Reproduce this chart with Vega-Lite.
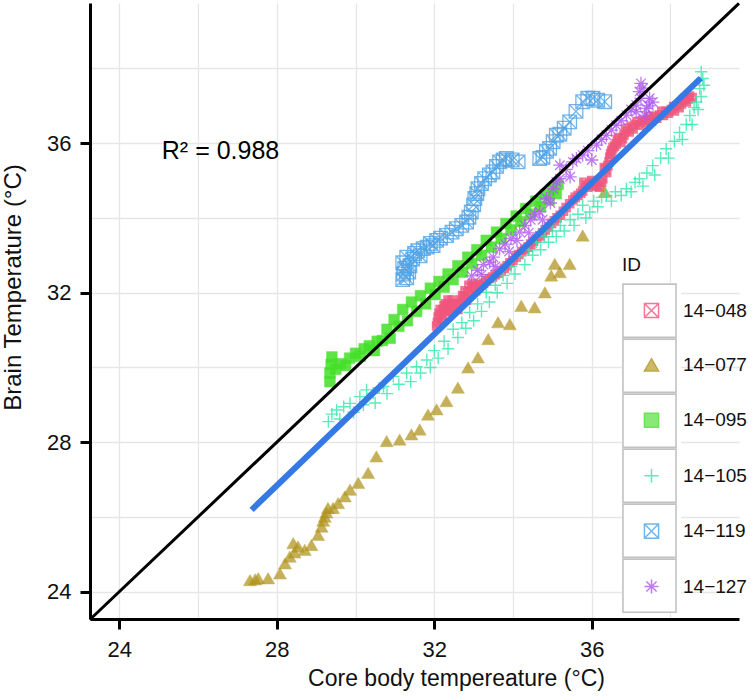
{
  "$schema": "https://vega.github.io/schema/vega-lite/v6.json",
  "width": 649,
  "height": 616,
  "autosize": {"type": "none"},
  "padding": {"left": 90, "top": 3, "right": 13, "bottom": 78},
  "config": {
    "view": {"stroke": null},
    "font": "Liberation Sans",
    "axis": {"labelFont": "Liberation Sans", "titleFont": "Liberation Sans"},
    "legend": {"labelFont": "Liberation Sans", "titleFont": "Liberation Sans"}
  },
  "datasets": {
    "pts": [
      {"ID":"14−048","core":32.06,"brain":31.11},{"ID":"14−048","core":32.10,"brain":31.35},{"ID":"14−048","core":32.15,"brain":31.55},{"ID":"14−048","core":32.20,"brain":31.40},{"ID":"14−048","core":32.25,"brain":31.65},{"ID":"14−048","core":32.30,"brain":31.50},{"ID":"14−048","core":32.35,"brain":31.80},{"ID":"14−048","core":32.40,"brain":31.60},{"ID":"14−048","core":32.45,"brain":31.80},{"ID":"14−048","core":32.50,"brain":31.55},{"ID":"14−048","core":32.55,"brain":31.70},{"ID":"14−048","core":32.60,"brain":31.55},{"ID":"14−048","core":32.65,"brain":31.70},{"ID":"14−048","core":32.72,"brain":31.92},{"ID":"14−048","core":32.78,"brain":32.05},{"ID":"14−048","core":32.82,"brain":31.80},{"ID":"14−048","core":32.88,"brain":32.20},{"ID":"14−048","core":32.92,"brain":32.05},{"ID":"14−048","core":32.98,"brain":32.25},{"ID":"14−048","core":33.05,"brain":32.05},{"ID":"14−048","core":33.12,"brain":32.22},{"ID":"14−048","core":33.25,"brain":32.25},{"ID":"14−048","core":33.40,"brain":32.38},{"ID":"14−048","core":33.55,"brain":32.48},{"ID":"14−048","core":33.70,"brain":32.58},{"ID":"14−048","core":33.85,"brain":32.72},{"ID":"14−048","core":34.00,"brain":32.86},{"ID":"14−048","core":34.15,"brain":33.02},{"ID":"14−048","core":34.30,"brain":33.16},{"ID":"14−048","core":34.45,"brain":33.30},{"ID":"14−048","core":34.60,"brain":33.45},{"ID":"14−048","core":34.75,"brain":33.60},{"ID":"14−048","core":34.90,"brain":33.76},{"ID":"14−048","core":35.05,"brain":33.92},{"ID":"14−048","core":35.20,"brain":34.07},{"ID":"14−048","core":35.35,"brain":34.28},{"ID":"14−048","core":35.52,"brain":34.48},{"ID":"14−048","core":35.65,"brain":34.60},{"ID":"14−048","core":35.77,"brain":34.72},{"ID":"14−048","core":35.80,"brain":34.95},{"ID":"14−048","core":35.90,"brain":34.82},{"ID":"14−048","core":36.00,"brain":35.00},{"ID":"14−048","core":36.08,"brain":34.86},{"ID":"14−048","core":36.20,"brain":34.82},{"ID":"14−048","core":36.28,"brain":35.05},{"ID":"14−048","core":36.32,"brain":35.35},{"ID":"14−048","core":36.38,"brain":35.22},{"ID":"14−048","core":36.44,"brain":35.50},{"ID":"14−048","core":36.48,"brain":35.72},{"ID":"14−048","core":36.54,"brain":35.88},{"ID":"14−048","core":36.62,"brain":35.98},{"ID":"14−048","core":36.68,"brain":36.15},{"ID":"14−048","core":36.74,"brain":36.02},{"ID":"14−048","core":36.82,"brain":36.22},{"ID":"14−048","core":36.90,"brain":36.40},{"ID":"14−048","core":36.95,"brain":36.30},{"ID":"14−048","core":37.05,"brain":36.38},{"ID":"14−048","core":37.15,"brain":36.58},{"ID":"14−048","core":37.22,"brain":36.48},{"ID":"14−048","core":37.35,"brain":36.55},{"ID":"14−048","core":37.45,"brain":36.72},{"ID":"14−048","core":37.52,"brain":36.60},{"ID":"14−048","core":37.65,"brain":36.67},{"ID":"14−048","core":37.78,"brain":36.85},{"ID":"14−048","core":37.82,"brain":36.74},{"ID":"14−048","core":37.95,"brain":36.80},{"ID":"14−048","core":38.08,"brain":36.98},{"ID":"14−048","core":38.10,"brain":36.86},{"ID":"14−048","core":38.22,"brain":36.95},{"ID":"14−048","core":38.32,"brain":37.15},{"ID":"14−048","core":38.40,"brain":37.10},{"ID":"14−048","core":38.48,"brain":37.26},{"ID":"14−048","core":38.55,"brain":37.22},
      {"ID":"14−048","core":32.08,"brain":31.20},{"ID":"14−048","core":32.12,"brain":31.45},{"ID":"14−048","core":32.18,"brain":31.30},{"ID":"14−048","core":32.22,"brain":31.55},{"ID":"14−048","core":32.28,"brain":31.70},{"ID":"14−048","core":32.32,"brain":31.60},{"ID":"14−048","core":32.38,"brain":31.70},{"ID":"14−048","core":32.42,"brain":31.50},{"ID":"14−048","core":32.48,"brain":31.68},{"ID":"14−048","core":32.58,"brain":31.62},{"ID":"14−048","core":32.68,"brain":31.80},{"ID":"14−048","core":32.75,"brain":31.90},{"ID":"14−048","core":32.85,"brain":32.00},{"ID":"14−048","core":32.95,"brain":32.15},{"ID":"14−048","core":33.02,"brain":32.15},{"ID":"14−048","core":33.18,"brain":32.20},{"ID":"14−048","core":33.32,"brain":32.32},{"ID":"14−048","core":33.48,"brain":32.42},{"ID":"14−048","core":33.62,"brain":32.52},{"ID":"14−048","core":33.78,"brain":32.65},{"ID":"14−048","core":33.92,"brain":32.80},{"ID":"14−048","core":34.08,"brain":32.95},{"ID":"14−048","core":34.22,"brain":33.10},{"ID":"14−048","core":34.38,"brain":33.22},{"ID":"14−048","core":34.52,"brain":33.38},{"ID":"14−048","core":34.68,"brain":33.52},{"ID":"14−048","core":34.82,"brain":33.68},{"ID":"14−048","core":34.98,"brain":33.85},{"ID":"14−048","core":35.12,"brain":34.00},{"ID":"14−048","core":35.28,"brain":34.18},{"ID":"14−048","core":35.44,"brain":34.38},{"ID":"14−048","core":35.58,"brain":34.55},{"ID":"14−048","core":35.72,"brain":34.66},{"ID":"14−048","core":35.85,"brain":34.88},{"ID":"14−048","core":35.95,"brain":34.90},{"ID":"14−048","core":36.04,"brain":34.95},{"ID":"14−048","core":36.14,"brain":34.84},{"ID":"14−048","core":36.25,"brain":34.95},{"ID":"14−048","core":36.35,"brain":35.30},{"ID":"14−048","core":36.41,"brain":35.40},{"ID":"14−048","core":36.46,"brain":35.62},{"ID":"14−048","core":36.51,"brain":35.80},{"ID":"14−048","core":36.58,"brain":35.92},{"ID":"14−048","core":36.65,"brain":36.08},{"ID":"14−048","core":36.78,"brain":36.12},{"ID":"14−048","core":36.86,"brain":36.32},{"ID":"14−048","core":37.00,"brain":36.45},{"ID":"14−048","core":37.10,"brain":36.50},{"ID":"14−048","core":37.28,"brain":36.60},{"ID":"14−048","core":37.40,"brain":36.62},{"ID":"14−048","core":37.58,"brain":36.72},{"ID":"14−048","core":37.72,"brain":36.75},{"ID":"14−048","core":37.88,"brain":36.85},{"ID":"14−048","core":38.02,"brain":36.90},{"ID":"14−048","core":38.16,"brain":37.00},{"ID":"14−048","core":38.28,"brain":37.05},{"ID":"14−048","core":38.36,"brain":37.20},{"ID":"14−048","core":38.45,"brain":37.18},

      {"ID":"14−077","core":27.32,"brain":24.31},{"ID":"14−077","core":27.45,"brain":24.33},{"ID":"14−077","core":27.53,"brain":24.36},{"ID":"14−077","core":27.78,"brain":24.36},{"ID":"14−077","core":28.08,"brain":24.49},{"ID":"14−077","core":28.21,"brain":24.76},{"ID":"14−077","core":28.33,"brain":24.94},{"ID":"14−077","core":28.42,"brain":25.30},{"ID":"14−077","core":28.45,"brain":25.05},{"ID":"14−077","core":28.54,"brain":25.21},{"ID":"14−077","core":28.71,"brain":25.12},{"ID":"14−077","core":28.88,"brain":25.25},{"ID":"14−077","core":29.05,"brain":25.52},{"ID":"14−077","core":29.14,"brain":25.74},{"ID":"14−077","core":29.18,"brain":25.90},{"ID":"14−077","core":29.22,"brain":26.01},{"ID":"14−077","core":29.26,"brain":26.12},{"ID":"14−077","core":29.30,"brain":26.24},{"ID":"14−077","core":29.43,"brain":26.24},{"ID":"14−077","core":29.56,"brain":26.37},{"ID":"14−077","core":29.73,"brain":26.55},{"ID":"14−077","core":29.86,"brain":26.73},{"ID":"14−077","core":30.07,"brain":26.91},{"ID":"14−077","core":30.32,"brain":27.18},{"ID":"14−077","core":30.53,"brain":27.62},{"ID":"14−077","core":30.79,"brain":28.03},{"ID":"14−077","core":31.12,"brain":28.07},{"ID":"14−077","core":31.42,"brain":28.21},{"ID":"14−077","core":31.63,"brain":28.34},{"ID":"14−077","core":31.84,"brain":28.74},{"ID":"14−077","core":32.06,"brain":28.88},{"ID":"14−077","core":32.31,"brain":29.10},{"ID":"14−077","core":32.60,"brain":29.46},{"ID":"14−077","core":32.86,"brain":30.00},{"ID":"14−077","core":33.11,"brain":30.27},{"ID":"14−077","core":33.37,"brain":30.76},{"ID":"14−077","core":33.62,"brain":31.21},{"ID":"14−077","core":33.92,"brain":31.16},{"ID":"14−077","core":34.21,"brain":31.65},{"ID":"14−077","core":34.55,"brain":31.61},{"ID":"14−077","core":34.81,"brain":32.01},{"ID":"14−077","core":34.97,"brain":32.46},{"ID":"14−077","core":35.06,"brain":32.77},{"ID":"14−077","core":35.19,"brain":32.55},{"ID":"14−077","core":35.44,"brain":32.77},{"ID":"14−077","core":35.77,"brain":33.53},{"ID":"14−077","core":36.33,"brain":34.70},

      {"ID":"14−095","core":29.35,"brain":29.62},{"ID":"14−095","core":29.35,"brain":29.85},{"ID":"14−095","core":29.38,"brain":30.08},{"ID":"14−095","core":29.40,"brain":30.28},{"ID":"14−095","core":29.50,"brain":29.95},{"ID":"14−095","core":29.62,"brain":30.10},{"ID":"14−095","core":29.75,"brain":30.05},{"ID":"14−095","core":29.85,"brain":30.25},{"ID":"14−095","core":30.00,"brain":30.38},{"ID":"14−095","core":30.12,"brain":30.30},{"ID":"14−095","core":30.22,"brain":30.50},{"ID":"14−095","core":30.35,"brain":30.58},{"ID":"14−095","core":30.48,"brain":30.45},{"ID":"14−095","core":30.55,"brain":30.70},{"ID":"14−095","core":30.68,"brain":30.72},{"ID":"14−095","core":30.80,"brain":31.02},{"ID":"14−095","core":30.88,"brain":30.78},{"ID":"14−095","core":30.98,"brain":31.28},{"ID":"14−095","core":31.10,"brain":31.10},{"ID":"14−095","core":31.20,"brain":31.55},{"ID":"14−095","core":31.32,"brain":31.25},{"ID":"14−095","core":31.42,"brain":31.75},{"ID":"14−095","core":31.55,"brain":31.50},{"ID":"14−095","core":31.65,"brain":31.92},{"ID":"14−095","core":31.78,"brain":31.70},{"ID":"14−095","core":31.90,"brain":32.12},{"ID":"14−095","core":32.02,"brain":31.95},{"ID":"14−095","core":32.12,"brain":32.30},{"ID":"14−095","core":32.25,"brain":32.15},{"ID":"14−095","core":32.35,"brain":32.50},{"ID":"14−095","core":32.48,"brain":32.35},{"ID":"14−095","core":32.60,"brain":32.72},{"ID":"14−095","core":32.72,"brain":32.55},{"ID":"14−095","core":32.85,"brain":32.95},{"ID":"14−095","core":32.95,"brain":32.78},{"ID":"14−095","core":33.08,"brain":33.15},{"ID":"14−095","core":33.20,"brain":33.00},{"ID":"14−095","core":33.32,"brain":33.40},{"ID":"14−095","core":33.45,"brain":33.22},{"ID":"14−095","core":33.58,"brain":33.62},{"ID":"14−095","core":33.70,"brain":33.45},{"ID":"14−095","core":33.82,"brain":33.85},{"ID":"14−095","core":33.95,"brain":33.68},{"ID":"14−095","core":34.08,"brain":34.05},{"ID":"14−095","core":34.20,"brain":33.90},{"ID":"14−095","core":34.32,"brain":34.25},{"ID":"14−095","core":34.45,"brain":34.10},{"ID":"14−095","core":34.58,"brain":34.45},{"ID":"14−095","core":34.70,"brain":34.30},{"ID":"14−095","core":34.82,"brain":34.62},{"ID":"14−095","core":34.92,"brain":34.48},{"ID":"14−095","core":35.02,"brain":34.78},{"ID":"14−095","core":35.10,"brain":34.65},{"ID":"14−095","core":35.15,"brain":34.90},

      {"ID":"14−105","core":29.31,"brain":28.55},{"ID":"14−105","core":29.40,"brain":28.75},{"ID":"14−105","core":29.52,"brain":28.86},{"ID":"14−105","core":29.60,"brain":28.62},{"ID":"14−105","core":29.70,"brain":28.95},{"ID":"14−105","core":29.86,"brain":29.04},{"ID":"14−105","core":29.95,"brain":28.80},{"ID":"14−105","core":30.11,"brain":29.22},{"ID":"14−105","core":30.20,"brain":29.00},{"ID":"14−105","core":30.28,"brain":29.40},{"ID":"14−105","core":30.45,"brain":29.31},{"ID":"14−105","core":30.50,"brain":29.05},{"ID":"14−105","core":30.60,"brain":29.45},{"ID":"14−105","core":30.71,"brain":29.49},{"ID":"14−105","core":30.80,"brain":29.30},{"ID":"14−105","core":30.96,"brain":29.76},{"ID":"14−105","core":31.10,"brain":29.55},{"ID":"14−105","core":31.30,"brain":29.85},{"ID":"14−105","core":31.40,"brain":29.62},{"ID":"14−105","core":31.55,"brain":30.02},{"ID":"14−105","core":31.65,"brain":29.85},{"ID":"14−105","core":31.81,"brain":30.20},{"ID":"14−105","core":31.90,"brain":30.00},{"ID":"14−105","core":32.00,"brain":30.45},{"ID":"14−105","core":32.10,"brain":30.25},{"ID":"14−105","core":32.25,"brain":30.70},{"ID":"14−105","core":32.35,"brain":30.50},{"ID":"14−105","core":32.48,"brain":31.02},{"ID":"14−105","core":32.60,"brain":30.80},{"ID":"14−105","core":32.70,"brain":31.20},{"ID":"14−105","core":32.80,"brain":31.05},{"ID":"14−105","core":32.90,"brain":31.47},{"ID":"14−105","core":33.00,"brain":31.25},{"ID":"14−105","core":33.10,"brain":31.70},{"ID":"14−105","core":33.20,"brain":31.50},{"ID":"14−105","core":33.32,"brain":32.01},{"ID":"14−105","core":33.40,"brain":31.75},{"ID":"14−105","core":33.55,"brain":32.20},{"ID":"14−105","core":33.60,"brain":32.00},{"ID":"14−105","core":33.75,"brain":32.46},{"ID":"14−105","core":33.85,"brain":32.25},{"ID":"14−105","core":33.95,"brain":32.70},{"ID":"14−105","core":34.05,"brain":32.50},{"ID":"14−105","core":34.17,"brain":32.99},{"ID":"14−105","core":34.30,"brain":32.75},{"ID":"14−105","core":34.40,"brain":33.15},{"ID":"14−105","core":34.50,"brain":33.00},{"ID":"14−105","core":34.59,"brain":33.35},{"ID":"14−105","core":34.70,"brain":33.15},{"ID":"14−105","core":34.80,"brain":33.50},{"ID":"14−105","core":34.90,"brain":33.35},{"ID":"14−105","core":35.00,"brain":33.65},{"ID":"14−105","core":35.10,"brain":33.50},{"ID":"14−105","core":35.20,"brain":33.80},{"ID":"14−105","core":35.30,"brain":33.65},{"ID":"14−105","core":35.45,"brain":33.95},{"ID":"14−105","core":35.55,"brain":33.80},{"ID":"14−105","core":35.65,"brain":34.10},{"ID":"14−105","core":35.77,"brain":34.34},{"ID":"14−105","core":35.85,"brain":34.00},{"ID":"14−105","core":35.95,"brain":34.16},{"ID":"14−105","core":36.05,"brain":34.45},{"ID":"14−105","core":36.15,"brain":34.30},{"ID":"14−105","core":36.25,"brain":34.55},{"ID":"14−105","core":36.37,"brain":34.60},{"ID":"14−105","core":36.50,"brain":34.45},{"ID":"14−105","core":36.60,"brain":34.70},{"ID":"14−105","core":36.75,"brain":34.60},{"ID":"14−105","core":36.88,"brain":34.78},{"ID":"14−105","core":37.00,"brain":34.70},{"ID":"14−105","core":37.10,"brain":34.95},{"ID":"14−105","core":37.21,"brain":35.05},{"ID":"14−105","core":37.30,"brain":34.85},{"ID":"14−105","core":37.40,"brain":35.20},{"ID":"14−105","core":37.55,"brain":35.40},{"ID":"14−105","core":37.60,"brain":35.15},{"ID":"14−105","core":37.75,"brain":35.60},{"ID":"14−105","core":37.89,"brain":35.85},{"ID":"14−105","core":37.95,"brain":35.60},{"ID":"14−105","core":38.10,"brain":36.05},{"ID":"14−105","core":38.23,"brain":36.29},{"ID":"14−105","core":38.30,"brain":36.10},{"ID":"14−105","core":38.40,"brain":36.50},{"ID":"14−105","core":38.49,"brain":36.74},{"ID":"14−105","core":38.55,"brain":36.50},{"ID":"14−105","core":38.60,"brain":36.95},{"ID":"14−105","core":38.66,"brain":37.10},{"ID":"14−105","core":38.70,"brain":36.90},{"ID":"14−105","core":38.74,"brain":37.46},{"ID":"14−105","core":38.78,"brain":37.25},{"ID":"14−105","core":38.82,"brain":37.73},{"ID":"14−105","core":38.78,"brain":37.91},{"ID":"14−105","core":38.85,"brain":37.55},

      {"ID":"14−119","core":31.20,"brain":32.35},{"ID":"14−119","core":31.22,"brain":32.50},{"ID":"14−119","core":31.25,"brain":32.65},{"ID":"14−119","core":31.20,"brain":32.80},{"ID":"14−119","core":31.30,"brain":32.95},{"ID":"14−119","core":31.30,"brain":32.40},{"ID":"14−119","core":31.38,"brain":32.72},{"ID":"14−119","core":31.35,"brain":32.55},{"ID":"14−119","core":31.45,"brain":32.90},{"ID":"14−119","core":31.50,"brain":33.05},{"ID":"14−119","core":31.58,"brain":33.12},{"ID":"14−119","core":31.64,"brain":32.99},{"ID":"14−119","core":31.72,"brain":33.18},{"ID":"14−119","core":31.82,"brain":33.22},{"ID":"14−119","core":31.90,"brain":33.32},{"ID":"14−119","core":31.97,"brain":33.26},{"ID":"14−119","core":32.06,"brain":33.40},{"ID":"14−119","core":32.16,"brain":33.46},{"ID":"14−119","core":32.31,"brain":33.53},{"ID":"14−119","core":32.45,"brain":33.62},{"ID":"14−119","core":32.56,"brain":33.71},{"ID":"14−119","core":32.70,"brain":33.80},{"ID":"14−119","core":32.82,"brain":33.89},{"ID":"14−119","core":32.88,"brain":34.02},{"ID":"14−119","core":32.94,"brain":34.16},{"ID":"14−119","core":33.00,"brain":34.35},{"ID":"14−119","core":33.03,"brain":34.52},{"ID":"14−119","core":33.08,"brain":34.65},{"ID":"14−119","core":33.11,"brain":34.78},{"ID":"14−119","core":33.20,"brain":34.92},{"ID":"14−119","core":33.28,"brain":35.05},{"ID":"14−119","core":33.40,"brain":35.15},{"ID":"14−119","core":33.49,"brain":35.23},{"ID":"14−119","core":33.58,"brain":35.38},{"ID":"14−119","core":33.66,"brain":35.50},{"ID":"14−119","core":33.75,"brain":35.55},{"ID":"14−119","core":33.83,"brain":35.59},{"ID":"14−119","core":33.98,"brain":35.55},{"ID":"14−119","core":34.13,"brain":35.50},{"ID":"14−119","core":34.68,"brain":35.59},{"ID":"14−119","core":34.76,"brain":35.62},{"ID":"14−119","core":34.85,"brain":35.78},{"ID":"14−119","core":34.93,"brain":35.86},{"ID":"14−119","core":35.02,"brain":36.04},{"ID":"14−119","core":35.10,"brain":36.21},{"ID":"14−119","core":35.19,"brain":36.24},{"ID":"14−119","core":35.30,"brain":36.40},{"ID":"14−119","core":35.44,"brain":36.57},{"ID":"14−119","core":35.60,"brain":36.85},{"ID":"14−119","core":35.77,"brain":37.11},{"ID":"14−119","core":35.90,"brain":37.20},{"ID":"14−119","core":36.03,"brain":37.20},{"ID":"14−119","core":36.15,"brain":37.15},{"ID":"14−119","core":36.33,"brain":37.11},

      {"ID":"14−127","core":32.95,"brain":32.45},{"ID":"14−127","core":33.10,"brain":32.60},{"ID":"14−127","core":33.20,"brain":32.48},{"ID":"14−127","core":33.25,"brain":32.75},{"ID":"14−127","core":33.41,"brain":32.82},{"ID":"14−127","core":33.50,"brain":32.95},{"ID":"14−127","core":33.55,"brain":32.70},{"ID":"14−127","core":33.66,"brain":33.17},{"ID":"14−127","core":33.80,"brain":33.30},{"ID":"14−127","core":33.90,"brain":33.10},{"ID":"14−127","core":33.95,"brain":33.45},{"ID":"14−127","core":34.10,"brain":33.40},{"ID":"14−127","core":34.17,"brain":33.62},{"ID":"14−127","core":34.30,"brain":33.80},{"ID":"14−127","core":34.40,"brain":33.60},{"ID":"14−127","core":34.45,"brain":33.95},{"ID":"14−127","core":34.55,"brain":34.10},{"ID":"14−127","core":34.68,"brain":34.16},{"ID":"14−127","core":34.75,"brain":33.95},{"ID":"14−127","core":34.85,"brain":34.52},{"ID":"14−127","core":34.95,"brain":34.40},{"ID":"14−127","core":35.02,"brain":34.78},{"ID":"14−127","core":35.10,"brain":34.96},{"ID":"14−127","core":35.19,"brain":35.05},{"ID":"14−127","core":35.19,"brain":35.41},{"ID":"14−127","core":35.35,"brain":35.30},{"ID":"14−127","core":35.45,"brain":35.10},{"ID":"14−127","core":35.52,"brain":35.50},{"ID":"14−127","core":35.61,"brain":35.59},{"ID":"14−127","core":35.77,"brain":35.68},{"ID":"14−127","core":35.90,"brain":35.80},{"ID":"14−127","core":36.00,"brain":35.55},{"ID":"14−127","core":36.12,"brain":35.95},{"ID":"14−127","core":36.25,"brain":36.10},{"ID":"14−127","core":36.37,"brain":36.21},{"ID":"14−127","core":36.50,"brain":36.35},{"ID":"14−127","core":36.62,"brain":36.48},{"ID":"14−127","core":36.75,"brain":36.60},{"ID":"14−127","core":36.88,"brain":36.75},{"ID":"14−127","core":37.00,"brain":36.90},{"ID":"14−127","core":37.13,"brain":37.02},{"ID":"14−127","core":37.13,"brain":36.84},{"ID":"14−127","core":37.21,"brain":37.38},{"ID":"14−127","core":37.25,"brain":37.20},{"ID":"14−127","core":37.30,"brain":37.47},{"ID":"14−127","core":37.35,"brain":36.75},{"ID":"14−127","core":37.39,"brain":36.93},{"ID":"14−127","core":37.45,"brain":37.00},{"ID":"14−127","core":37.47,"brain":37.20},{"ID":"14−127","core":37.55,"brain":37.10},{"ID":"14−127","core":37.25,"brain":37.60}
    ],
    "fit": [{"core": 27.36, "brain": 26.19}, {"core": 38.77, "brain": 37.74}],
    "diag": [{"core": 23.256, "brain": 23.256}, {"core": 39.74, "brain": 39.74}],
    "note": [{"label": "R² = 0.988", "core": 25.08, "brain": 35.8}]
  },
  "encoding": {
    "x": {
      "field": "core", "type": "quantitative",
      "title": "Core body tempereature (°C)",
      "scale": {"domain": [23.256, 39.74], "nice": false, "zero": false},
      "axis": {
        "values": [24, 26, 28, 30, 32, 34, 36, 38],
        "labelExpr": "datum.value % 4 === 0 ? datum.label : ''",
        "tickOpacity": {"condition": {"test": "datum.value % 4 === 0", "value": 1}, "value": 0},
        "grid": true, "gridColor": "#e6e6e6", "gridWidth": 1.3,
        "domainColor": "#000000", "domainWidth": 3,
        "tickColor": "#000000", "tickWidth": 3, "tickSize": 10,
        "labelFontSize": 22, "labelColor": "#111111", "labelPadding": 10,
        "titleFontSize": 23, "titleFontWeight": "normal", "titleColor": "#111111",
        "titleX": 366, "titleY": 66, "titleAlign": "center", "titleBaseline": "alphabetic", "titleAnchor": null
      }
    },
    "y": {
      "field": "brain", "type": "quantitative",
      "title": "Brain Temperature (°C)",
      "scale": {"domain": [23.27, 39.75], "nice": false, "zero": false},
      "axis": {
        "values": [24, 26, 28, 30, 32, 34, 36, 38],
        "labelExpr": "datum.value % 4 === 0 ? datum.label : ''",
        "tickOpacity": {"condition": {"test": "datum.value % 4 === 0", "value": 1}, "value": 0},
        "grid": true, "gridColor": "#e6e6e6", "gridWidth": 1.3,
        "domainColor": "#000000", "domainWidth": 3,
        "tickColor": "#000000", "tickWidth": 3, "tickSize": 10,
        "labelFontSize": 22, "labelColor": "#111111", "labelPadding": 9,
        "titleFontSize": 24, "titleFontWeight": "normal", "titleColor": "#111111",
        "titleX": -70, "titleY": 284, "titleAngle": -90, "titleAlign": "center", "titleBaseline": "alphabetic", "titleAnchor": null
      }
    }
  },
  "layer": [
    {
      "data": {"name": "pts"},
      "mark": {"type": "point", "filled": true, "opacity": 0, "shape": "square", "color": "#c2c2c2"},
      "encoding": {
        "strokeWidth": {
          "field": "ID", "type": "ordinal",
          "scale": {"domain": ["14−048", "14−077", "14−095", "14−105", "14−119", "14−127"], "range": [0.01, 0.01]},
          "legend": {
            "title": null, "orient": "none", "legendX": 532, "legendY": 280.15,
            "symbolType": "M-1,-1H1V1H-1Z M-0.9415,-0.9415V0.9415H0.9415V-0.9415Z",
            "symbolSize": 2992, "labelExpr": "''",
            "symbolFillColor": "#c2c2c2", "symbolStrokeColor": "#c2c2c2",
            "fillColor": "#ffffff",
            "padding": 0, "rowPadding": 0, "zindex": 1
          }
        }
      }
    },
    {
      "data": {"name": "pts"},
      "encoding": {
        "fill": {
          "field": "ID", "type": "nominal", "title": "ID",
          "scale": {"range": ["transparent", "#b0921a", "#44e028", "transparent", "transparent", "transparent"]},
          "legend": {
            "orient": "none", "legendX": 532, "legendY": 253, "padding": 0,
            "titleFontSize": 19, "titleFontWeight": "normal", "titleColor": "#111111", "titlePadding": 26,
            "labelFontSize": 19, "labelColor": "#111111", "labelOffset": 22, "symbolOffset": 20,
            "symbolSize": 200, "symbolStrokeWidth": 1.5, "rowPadding": 34.4, "zindex": 2
          }
        },
        "stroke": {
          "field": "ID", "type": "nominal", "title": "ID",
          "scale": {"range": ["#f0567c", "#b0921a", "#44e028", "#33e8ac", "#4fa3e6", "#b05af2"]}
        },
        "shape": {
          "field": "ID", "type": "nominal", "title": "ID",
          "scale": {"range": [
            "M-1,-1H1V1H-1Z M-1,-1L1,1 M1,-1L-1,1",
            "triangle-up",
            "square",
            "M-1,0H1 M0,-1V1",
            "M-1,-1H1V1H-1Z M-1,-1L1,1 M1,-1L-1,1",
            "M-1,0H1 M0,-1V1 M-0.72,-0.72L0.72,0.72 M0.72,-0.72L-0.72,0.72"
          ]}
        }
      },
      "layer": [
        {"transform": [{"filter": "datum.ID === '14−048'"}], "mark": {"type": "point", "filled": true, "opacity": 0.8, "size": 55, "strokeWidth": 2.2}},
        {"transform": [{"filter": "datum.ID === '14−077'"}], "mark": {"type": "point", "filled": true, "opacity": 0.72, "size": 170, "strokeWidth": 0.5}},
        {"transform": [{"filter": "datum.ID === '14−095'"}], "mark": {"type": "point", "filled": true, "opacity": 0.85, "size": 115, "strokeWidth": 0.5}},
        {"transform": [{"filter": "datum.ID === '14−105'"}], "mark": {"type": "point", "filled": true, "opacity": 0.8, "size": 150, "strokeWidth": 1.4}},
        {"transform": [{"filter": "datum.ID === '14−119'"}], "mark": {"type": "point", "filled": true, "opacity": 0.8, "size": 185, "strokeWidth": 1.3}},
        {"transform": [{"filter": "datum.ID === '14−127'"}], "mark": {"type": "point", "filled": true, "opacity": 0.8, "size": 175, "strokeWidth": 1.3}}
      ]
    },
    {
      "data": {"name": "diag"},
      "mark": {"type": "line", "color": "#000000", "strokeWidth": 3},
      "encoding": {}
    },
    {
      "data": {"name": "fit"},
      "mark": {"type": "line", "color": "#3579e6", "strokeWidth": 6},
      "encoding": {}
    },
    {
      "data": {"name": "note"},
      "mark": {"type": "text", "align": "left", "baseline": "middle", "fontSize": 25, "font": "Liberation Sans", "color": "#000000"},
      "encoding": {"text": {"field": "label"}}
    }
  ]
}
